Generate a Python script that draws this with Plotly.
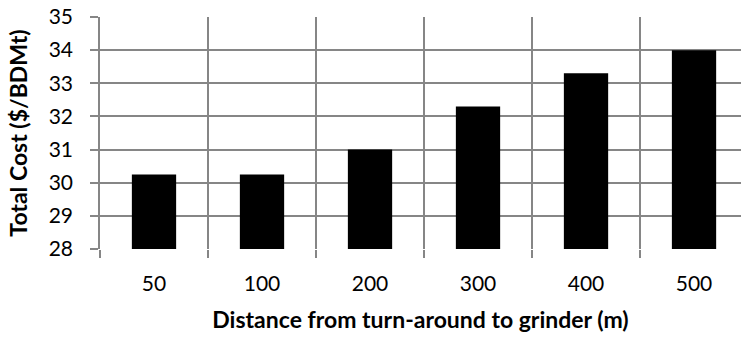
import plotly.graph_objects as go

# Total cost by distance from turn-around to grinder
distances = ["50", "100", "200", "300", "400", "500"]
total_cost = [30.25, 30.25, 31.0, 32.3, 33.3, 34.0]
y_ticks = [28, 29, 30, 31, 32, 33, 34, 35]
boundaries = [-0.5, 0.5, 1.5, 2.5, 3.5, 4.5]

grid_color = "#868686"
font_family = "Lato, 'Open Sans', sans-serif"
x_range = [-0.5, 5.435]

fig = go.Figure(
    go.Bar(
        x=list(range(len(distances))),
        y=total_cost,
        width=0.41,
        marker=dict(color="#000000", line=dict(width=0)),
    )
)

fig.update_layout(
    width=741,
    height=339,
    margin=dict(l=100, r=0, t=17, b=90),
    paper_bgcolor="white",
    plot_bgcolor="white",
    showlegend=False,
    font=dict(family=font_family, color="#000000", size=21),
)

fig.update_xaxes(
    range=x_range,
    tickmode="array",
    tickvals=list(range(len(distances))),
    ticktext=distances,
    showgrid=False,
    ticks="",
    showline=False,
    zeroline=False,
    title=dict(
        text="<b>Distance from turn-around to grinder (m)</b>",
        font=dict(size=23, family=font_family),
        standoff=17,
    ),
    tickfont=dict(size=21),
    ticklabelstandoff=20,
)

# category boundaries drawn as vertical grid lines with outside ticks
fig.add_trace(
    go.Scatter(
        x=boundaries,
        y=[28] * len(boundaries),
        xaxis="x2",
        yaxis="y",
        mode="markers",
        marker=dict(opacity=0),
        hoverinfo="skip",
    )
)
fig.update_layout(
    xaxis2=dict(
        overlaying="x",
        range=x_range,
        tickmode="array",
        tickvals=boundaries,
        showticklabels=False,
        showgrid=True,
        gridcolor=grid_color,
        gridwidth=1.5,
        ticks="outside",
        ticklen=8,
        tickcolor=grid_color,
        tickwidth=1.5,
        side="bottom",
        anchor="y",
        zeroline=False,
        showline=False,
        layer="below traces",
    )
)

fig.update_yaxes(
    range=[28, 35],
    tickmode="array",
    tickvals=y_ticks,
    showgrid=True,
    gridcolor=grid_color,
    gridwidth=1.5,
    ticks="outside",
    ticklen=8,
    tickcolor=grid_color,
    tickwidth=1.5,
    zeroline=False,
    showline=True,
    linecolor=grid_color,
    linewidth=1.5,
    tickfont=dict(size=21),
    ticklabelstandoff=13,
    title=dict(
        text="<b>Total Cost ($/BDMt)</b>",
        font=dict(size=23, family=font_family),
        standoff=15,
    ),
)

fig.write_html("out.html")
